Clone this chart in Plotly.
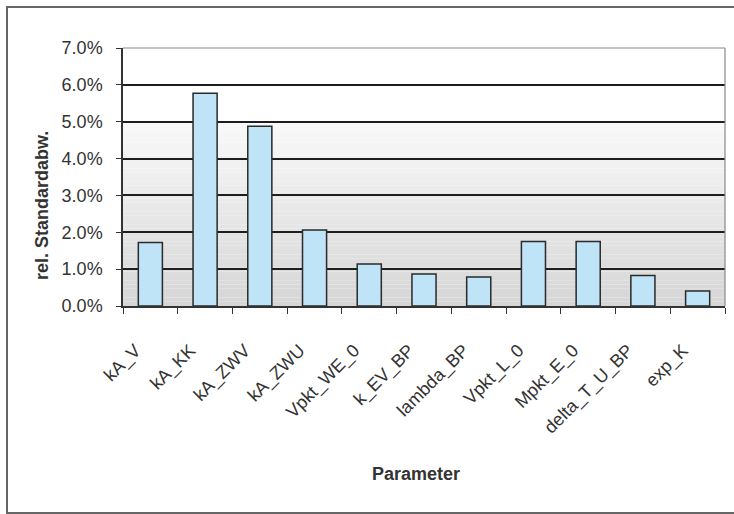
import plotly.graph_objects as go

categories = ["kA_V", "kA_KK", "kA_ZWV", "kA_ZWU", "Vpkt_WE_0", "k_EV_BP",
              "lambda_BP", "Vpkt_L_0", "Mpkt_E_0", "delta_T_U_BP", "exp_K"]
values = [0.0172, 0.0577, 0.0488, 0.0206, 0.0114, 0.0087,
          0.0079, 0.0175, 0.0175, 0.0083, 0.0041]
y_ticks = [0, 0.01, 0.02, 0.03, 0.04, 0.05, 0.06, 0.07]

W, H = 734, 514
L, R, T, B = 123, 9, 48, 208
pw, ph = W - L - R, H - T - B

FONT = "Liberation Sans, Arial, sans-serif"
TXT = "#333333"

fig = go.Figure(go.Bar(
    x=categories, y=values, width=0.44,
    marker=dict(color="#bfe3f7", line=dict(color="#2a2a2a", width=1.5)),
))

shapes = []
# gradient background of the plot area (white at top -> gray at bottom)
n = 60
for i in range(n):
    f0, f1 = i / n, (i + 1) / n
    mid = (f0 + f1) / 2  # 0 bottom .. 1 top
    if mid > 0.72:
        g = 255
    else:
        t = mid / 0.72
        g = int(214 + (250 - 214) * t)
    shapes.append(dict(type="rect", xref="x domain", yref="y domain",
                       x0=0, x1=1, y0=f0, y1=f1, layer="below",
                       line=dict(width=0), fillcolor=f"rgb({g},{g},{g})"))
# right border of plot area
shapes.append(dict(type="line", xref="x domain", yref="y domain",
                   x0=1, x1=1, y0=0, y1=1, line=dict(color="#888888", width=1.2)))
# top line at 7%
shapes.append(dict(type="line", xref="x domain", yref="y domain",
                   x0=0, x1=1, y0=1, y1=1, line=dict(color="#8a8a8a", width=1.2)))
# outer chart frame
shapes.append(dict(type="rect", xref="paper", yref="paper",
                   x0=(7 - L) / pw, x1=(745 - L) / pw,
                   y0=(T + ph - 513) / ph, y1=(T + ph - 7) / ph,
                   line=dict(color="#666666", width=2), layer="below"))

fig.update_layout(
    width=W, height=H,
    margin=dict(l=L, r=R, t=T, b=B),
    paper_bgcolor="white", plot_bgcolor="rgba(0,0,0,0)",
    showlegend=False, bargap=0.56,
    font=dict(family=FONT, color=TXT, size=17),
    shapes=shapes,
    xaxis=dict(
        type="category", tickangle=-45, tickson="boundaries",
        ticks="outside", ticklen=6, tickcolor="#333333", tickwidth=1.2,
        showline=True, linecolor="#333333", linewidth=1.5,
        showgrid=False, tickfont=dict(size=18, color=TXT, family=FONT),
        ticklabelstandoff=25, ticklabelshift=-15,
        automargin=False,
    ),
    yaxis=dict(
        range=[0, 0.07], tickvals=y_ticks, tickformat=".1%",
        ticks="outside", ticklen=5, tickcolor="#333333",
        showline=True, linecolor="#333333", linewidth=1.5,
        showgrid=True, gridcolor="#1e1e1e", gridwidth=1.5,
        zeroline=False, tickfont=dict(size=18, color=TXT, family=FONT),
        ticklabelstandoff=10,
        automargin=False,
    ),
    annotations=[
        dict(text="<b>rel. Standardabw.</b>", xref="paper", yref="paper",
             x=(42 - L) / pw, y=(T + ph - 206) / ph, textangle=-90, showarrow=False,
             font=dict(size=18, color=TXT, family=FONT),
             xanchor="center", yanchor="middle"),
        dict(text="<b>Parameter</b>", xref="paper", yref="paper",
             x=(416 - L) / pw, y=(T + ph - 474) / ph, showarrow=False,
             font=dict(size=18, color=TXT, family=FONT),
             xanchor="center", yanchor="middle"),
    ],
)

fig.write_html("out.html")
